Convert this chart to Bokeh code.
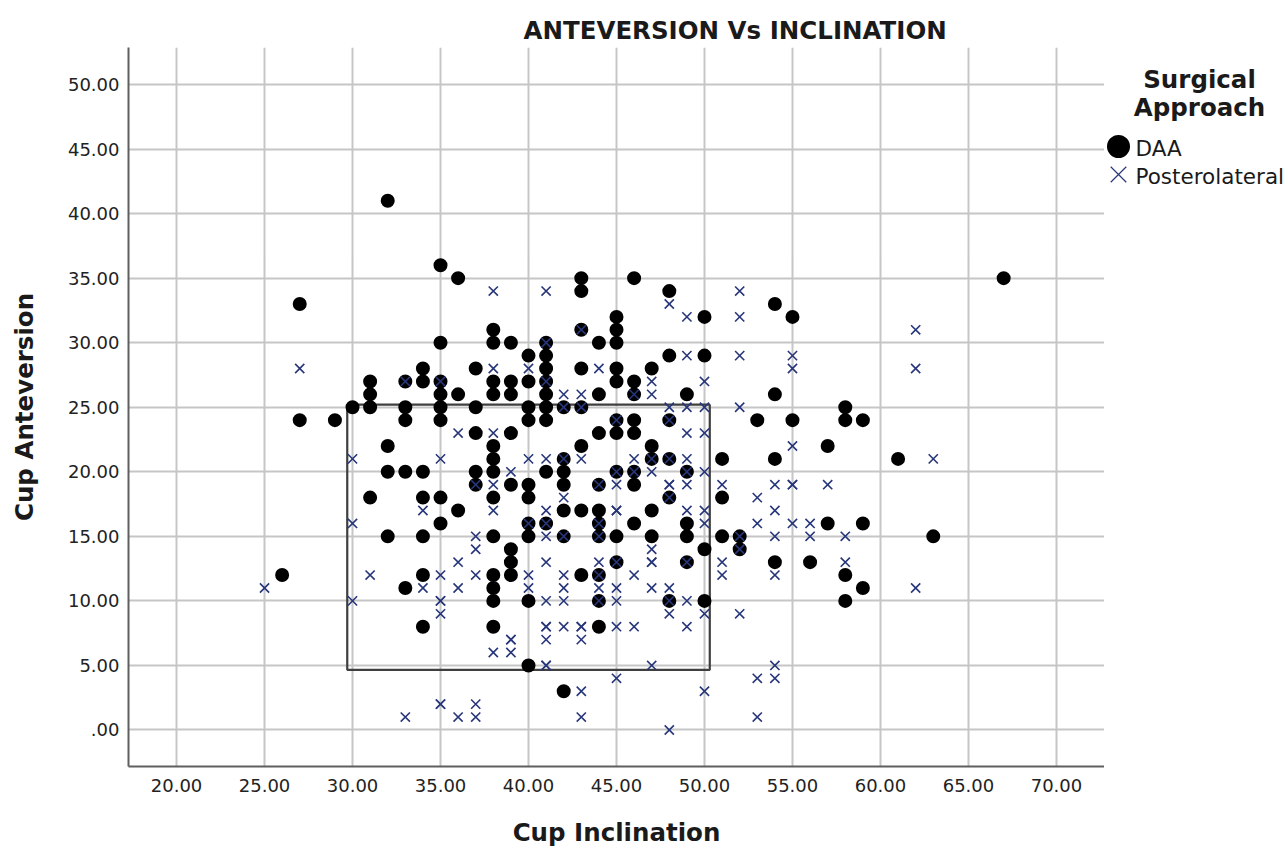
from bokeh.plotting import figure
from bokeh.layouts import row
from bokeh.models import FixedTicker
from bokeh.core.properties import value
from bokeh.embed import file_html
from bokeh.resources import INLINE

# Surgical approach: {cup inclination: [cup anteversion, ...]}
daa_points = {
    26: [12], 27: [33, 24], 29: [24], 30: [25], 31: [27, 26, 25, 18],
    32: [41, 22, 20, 15], 33: [27, 25, 24, 20, 11],
    34: [28, 27, 20, 18, 15, 12, 8], 35: [36, 30, 27, 26, 25, 24, 18, 16],
    36: [35, 26, 17], 37: [28, 25, 23, 20, 19],
    38: [31, 30, 27, 26, 22, 21, 20, 18, 15, 12, 11, 10, 8],
    39: [30, 27, 26, 23, 19, 14, 13, 12],
    40: [29, 27, 25, 24, 19, 18, 16, 15, 10, 5],
    41: [30, 29, 28, 27, 26, 25, 24, 20, 16],
    42: [25, 21, 20, 19, 17, 15, 3],
    43: [35, 34, 31, 28, 25, 22, 17, 12],
    44: [30, 26, 23, 19, 17, 16, 15, 12, 10, 8],
    45: [32, 31, 30, 28, 27, 24, 23, 20, 15, 13],
    46: [35, 27, 26, 24, 23, 20, 19, 16], 47: [28, 22, 21, 17, 15],
    48: [34, 29, 24, 21, 18, 10], 49: [26, 20, 16, 15, 13],
    50: [32, 29, 14, 10], 51: [21, 18, 15], 52: [15, 14], 53: [24],
    54: [33, 26, 21, 13], 55: [32, 24], 56: [13], 57: [22, 16],
    58: [25, 24, 12, 10], 59: [24, 16, 11], 61: [21], 63: [15], 67: [35],
}
posterolateral_points = {
    25: [11], 27: [28], 30: [21, 16, 10], 31: [12], 33: [27, 1], 34: [17, 11],
    35: [27, 21, 12, 10, 10, 9, 2, 2], 36: [23, 13, 11, 1],
    37: [19, 15, 14, 12, 2, 1], 38: [34, 28, 23, 19, 17, 6],
    39: [20, 7, 7, 6], 40: [28, 21, 16, 12, 11],
    41: [34, 30, 27, 21, 17, 16, 15, 13, 10, 8, 8, 7, 5, 5],
    42: [26, 25, 21, 18, 15, 12, 11, 10, 8],
    43: [31, 26, 25, 21, 8, 8, 7, 3, 1],
    44: [28, 19, 16, 15, 13, 12, 11, 10],
    45: [24, 20, 19, 17, 17, 13, 11, 10, 8, 4],
    46: [26, 21, 20, 12, 8], 47: [27, 26, 21, 20, 14, 13, 13, 11, 5],
    48: [33, 25, 24, 21, 19, 19, 18, 11, 10, 9, 0],
    49: [32, 29, 25, 23, 21, 20, 19, 17, 13, 10, 8],
    50: [27, 25, 23, 20, 17, 16, 9, 3], 51: [19, 13, 12],
    52: [34, 32, 29, 25, 15, 14, 9], 53: [18, 16, 4, 1],
    54: [19, 17, 15, 12, 5, 4], 55: [29, 28, 22, 19, 19, 16], 56: [16, 15],
    57: [19], 58: [15, 13], 62: [31, 28, 11], 63: [21],
}
x_ticks = [20, 25, 30, 35, 40, 45, 50, 55, 60, 65, 70]
x_labels = ["20.00", "25.00", "30.00", "35.00", "40.00", "45.00", "50.00", "55.00", "60.00", "65.00", "70.00"]
y_ticks = [0, 5, 10, 15, 20, 25, 30, 35, 40, 45, 50]
y_labels = [".00", "5.00", "10.00", "15.00", "20.00", "25.00", "30.00", "35.00", "40.00", "45.00", "50.00"]
target_zone = dict(left=29.7, right=50.3, top=25.2, bottom=4.66)

FONT = "DejaVu Sans"
INK = "#1a1a1a"
NAVY = "#27367a"


def flatten(points):
    xs, ys = [], []
    for inclination, values in points.items():
        for anteversion in values:
            xs.append(inclination)
            ys.append(anteversion)
    return xs, ys


p = figure(
    width=1104, height=849, output_backend="svg", toolbar_location=None,
    x_range=(17.27, 72.73), y_range=(-2.83, 52.87),
    min_border_left=128, min_border_right=0, min_border_top=47, min_border_bottom=83,
    x_axis_label="Cup Inclination", y_axis_label="Cup Anteversion",
)
p.outline_line_color = None
p.title.text = "ANTEVERSION Vs INCLINATION"
p.title.text_font = FONT
p.title.text_font_size = "24.5px"
p.title.text_font_style = "bold"
p.title.text_color = INK
p.title.align = "left"
p.title.offset = 395
p.title.standoff = 5

for axis, ticks, labels in ((p.xaxis[0], x_ticks, x_labels), (p.yaxis[0], y_ticks, y_labels)):
    axis.ticker = FixedTicker(ticks=ticks)
    axis.major_label_overrides = dict(zip(ticks, labels))
    axis.major_label_text_font = FONT
    axis.major_label_text_font_size = "18px"
    axis.major_label_text_color = "#222222"
    axis.axis_label_text_font = FONT
    axis.axis_label_text_font_size = "24.5px"
    axis.axis_label_text_font_style = "bold"
    axis.axis_label_text_color = INK
    axis.axis_line_color = "#5f5f5f"
    axis.axis_line_width = 2
    axis.major_tick_line_color = None
    axis.minor_tick_line_color = None
    axis.major_tick_in = 0
    axis.major_tick_out = 0
p.xaxis[0].major_label_standoff = 12
p.xaxis[0].axis_label_standoff = 23
p.yaxis[0].major_label_standoff = 9
p.yaxis[0].axis_label_standoff = 26

p.grid.grid_line_color = "#c6c6c6"
p.grid.grid_line_width = 2

p.quad(left=[target_zone["left"]], right=[target_zone["right"]],
       top=[target_zone["top"]], bottom=[target_zone["bottom"]],
       fill_color=None, line_color="#3f3f3f", line_width=2.2)

dx, dy = flatten(daa_points)
px, py = flatten(posterolateral_points)
p.scatter(dx, dy, marker="circle", size=14, fill_color="#000000", line_color="#000000", line_width=0)
p.scatter(px, py, marker="x", size=13, line_color=NAVY, line_width=1.6)

# Legend panel: its frame lines up with the plot's, so its y units are page pixels.
side = figure(
    width=184, height=849, output_backend="svg", toolbar_location=None,
    x_range=(0, 184), y_range=(766, 47),
    x_axis_location=None, y_axis_location=None,
    min_border_left=0, min_border_right=0, min_border_top=47, min_border_bottom=83,
)
side.outline_line_color = None
side.grid.visible = False
side.text([95, 95], [79, 107], text=["Surgical", "Approach"], text_font=value(FONT),
          text_font_size="24.5px", text_font_style="bold", text_color=INK,
          text_align="center", text_baseline="middle")
side.scatter([14], [146], marker="circle", size=23, fill_color="#000000", line_color="#000000", line_width=0)
side.scatter([14], [174], marker="x", size=22, line_color=NAVY, line_width=1.2)
side.text([31, 31], [148, 176], text=["DAA", "Posterolateral"], text_font=value(FONT),
          text_font_size="21.5px", text_color=INK, text_align="left", text_baseline="middle")

open("out.html", "w").write(file_html(row(p, side, spacing=0), INLINE))
